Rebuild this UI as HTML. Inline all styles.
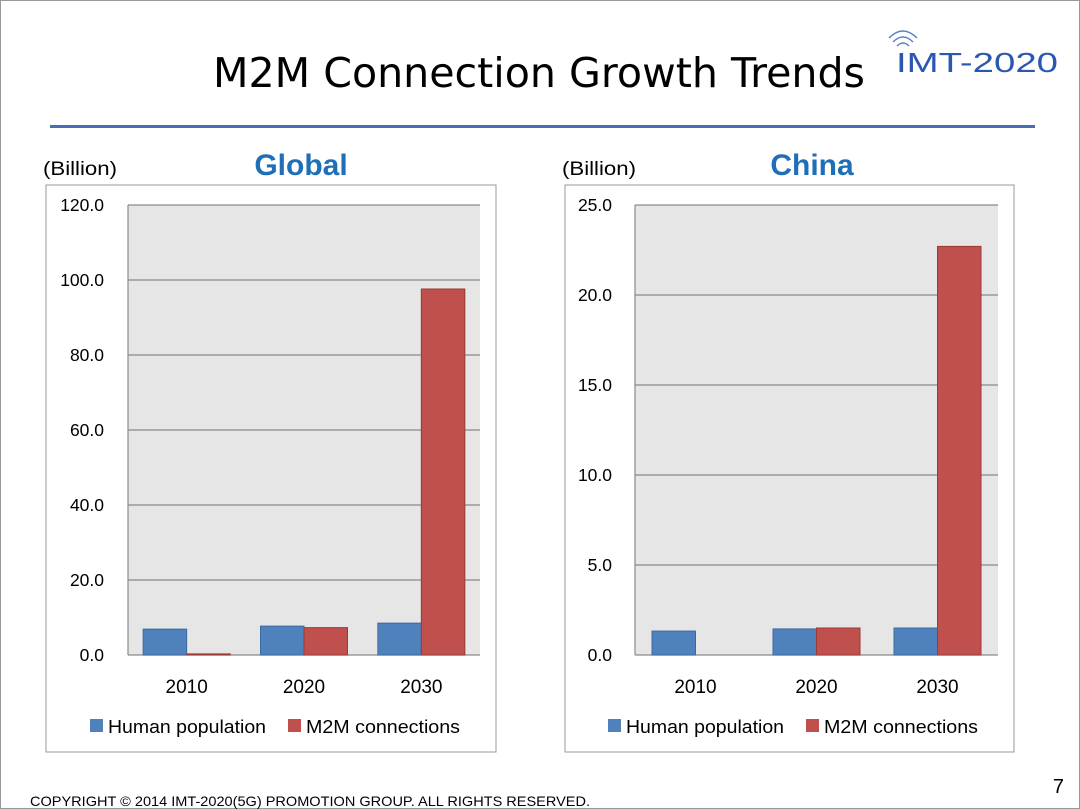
<!DOCTYPE html>
<html><head><meta charset="utf-8"><style>
body{margin:0;width:1080px;height:809px;background:#fff;overflow:hidden;font-family:"Liberation Sans",sans-serif;}
svg{position:absolute;left:0;top:0}
</style></head><body>
<svg id="s" width="1080" height="809">
<rect x="0.5" y="0.5" width="1079" height="808" fill="none" stroke="#999"/>
<text x="539" y="87" text-anchor="middle" font-size="41" fill="#000" font-family="DejaVu Sans, Liberation Sans, sans-serif" textLength="652" lengthAdjust="spacingAndGlyphs">M2M Connection Growth Trends</text>
<g>
<path d="M889 38 Q903 24 917 38 M893 42 Q903 32 913 42 M897 46 Q903 40 909 46" fill="none" stroke="#5a7fc0" stroke-width="1.5"/>
<text x="896" y="72" font-size="28" fill="#2a58b0" font-family="Liberation Sans, sans-serif" textLength="162" lengthAdjust="spacingAndGlyphs">IMT-2020</text>
</g>
<rect x="50" y="125" width="985" height="3" fill="#4a6cb4"/>
<text x="30" y="806" font-size="14" fill="#000" textLength="560" lengthAdjust="spacingAndGlyphs">COPYRIGHT © 2014 IMT-2020(5G) PROMOTION  GROUP.  ALL RIGHTS RESERVED.</text>
<text x="1064" y="793" font-size="20" text-anchor="end" fill="#000">7</text>
</svg>
<script>
const categories=["2010","2020","2030"];
const globalHuman=[6.9,7.7,8.5];
const globalM2M=[0.3,7.3,97.6];
const globalTicks=[0,20,40,60,80,100,120];
const chinaHuman=[1.33,1.45,1.5];
const chinaM2M=[0,1.5,22.7];
const chinaTicks=[0,5,10,15,20,25];
const NS="http://www.w3.org/2000/svg";
const svg=document.getElementById('s');
function el(t,a,p){const e=document.createElementNS(NS,t);for(const k in a)e.setAttribute(k,a[k]);(p||svg).appendChild(e);return e;}
function chart(cfg){
  const g=el('g',{});
  
  
  const box=el('rect',{x:cfg.bx,y:185,width:cfg.bw,height:567,fill:'#fff',stroke:'#999','stroke-width':1},g);
  
  const u=el('text',{x:cfg.bx-3,y:175,'font-size':19,fill:'#000',textLength:74,lengthAdjust:'spacingAndGlyphs'},g);u.textContent='(Billion)';
  
  const t=el('text',{x:cfg.tx,y:175,'font-size':30,'font-weight':'bold',fill:'#1f6fb8','text-anchor':'middle'},g);t.textContent=cfg.title;
  
  const x0=cfg.px0,x1=cfg.px1,y0=655,y1=205,max=cfg.ticks[cfg.ticks.length-1];
  const Y=v=>y0-(v/max)*(y0-y1);
  const pa=el('rect',{x:x0,y:y1,width:x1-x0,height:y0-y1,fill:'#e6e6e6'},g);
  
  cfg.ticks.forEach(v=>{
    const l=el('line',{x1:x0,x2:x1,y1:Y(v),y2:Y(v),stroke:'#8a8a8a','stroke-width':1.2},g);
    
    const tl=el('text',{x:cfg.tickX,y:Y(v)+6,'font-size':17.5,fill:'#000','text-anchor':'end'},g);tl.textContent=v.toFixed(1);
    
  });
  el('line',{x1:x0,x2:x0,y1:y1,y2:y0,stroke:'#8a8a8a','stroke-width':1.2},g);
  const gw=(x1-x0)/categories.length,bw=43.5;
  categories.forEach((c,i)=>{
    const cx=x0+gw*i+gw/2;
    [[cfg.h[i],'#4f81bd','#3c6aa0','bar-human-'+c,-bw],[cfg.m[i],'#c0504d','#9a3a38','bar-m2m-'+c,0]].forEach(b=>{
      const r=el('rect',{x:cx+b[4],y:Y(b[0]),width:bw,height:Math.max(0,y0-Y(b[0])),fill:b[1],stroke:b[0]>0?b[2]:'none','stroke-width':1},g);
      
    });
    const cl=el('text',{x:cx,y:693,'font-size':19,'text-anchor':'middle',fill:'#000'},g);cl.textContent=c;
    
  });
  [[cfg.lx,'#4f81bd','Human population','legend-human',158],[cfg.lx+198,'#c0504d','M2M connections','legend-m2m',154]].forEach(L=>{
    const lg=el('g',{},g);
    el('rect',{x:L[0],y:719,width:13,height:13,fill:L[1]},lg);
    const tt=el('text',{x:L[0]+18,y:733,'font-size':18,fill:'#000',textLength:L[4],lengthAdjust:'spacingAndGlyphs'},lg);tt.textContent=L[2];
  });
}
chart({name:'global-chart',title:'Global',bx:46,bw:450,tx:301,px0:128,px1:480,ticks:globalTicks,tickX:104,h:globalHuman,m:globalM2M,lx:90});
chart({name:'china-chart',title:'China',bx:565,bw:449,tx:812,px0:635,px1:998,ticks:chinaTicks,tickX:612,h:chinaHuman,m:chinaM2M,lx:608});
</script>
</body></html>
